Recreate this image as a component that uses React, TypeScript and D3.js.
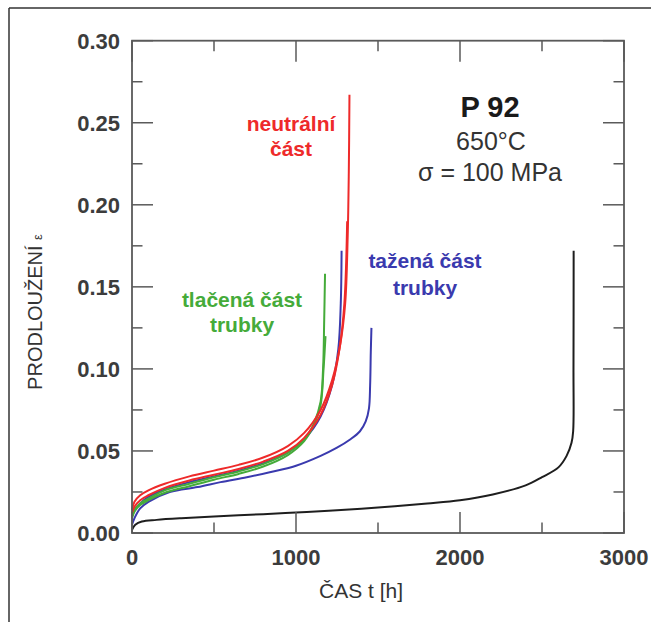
import React from "react";
import * as d3 from "d3";

// creep curves: [time h, strain]
const blackCurve = [
  [0, 0.002], [20, 0.005], [60, 0.007], [150, 0.008], [300, 0.009], [500, 0.010],
  [800, 0.0115], [1000, 0.0125], [1200, 0.0135], [1500, 0.0155], [1800, 0.018],
  [2000, 0.020], [2200, 0.0235], [2400, 0.029], [2500, 0.034], [2600, 0.040],
  [2650, 0.047], [2680, 0.055], [2690, 0.062], [2692, 0.10], [2693, 0.172],
];
const redCurveA = [
  [0, 0.014], [15, 0.019], [50, 0.023], [100, 0.026], [200, 0.030], [350, 0.0345],
  [500, 0.038], [650, 0.0415], [800, 0.046], [950, 0.053], [1050, 0.061],
  [1150, 0.075], [1220, 0.093], [1270, 0.115], [1300, 0.14], [1315, 0.18],
  [1322, 0.22], [1326, 0.267],
];
const redCurveB = [
  [0, 0.012], [15, 0.016], [50, 0.020], [100, 0.023], [200, 0.0275], [350, 0.032],
  [500, 0.0355], [650, 0.039], [800, 0.0435], [950, 0.050], [1050, 0.058],
  [1150, 0.072], [1220, 0.090], [1265, 0.112], [1295, 0.14], [1312, 0.19],
];
const greenCurveA = [
  [0, 0.010], [15, 0.014], [50, 0.018], [100, 0.021], [200, 0.026], [350, 0.030],
  [500, 0.034], [650, 0.0375], [800, 0.042], [950, 0.049], [1050, 0.057],
  [1110, 0.067], [1150, 0.080], [1165, 0.10], [1172, 0.13], [1177, 0.158],
];
const greenCurveB = [
  [0, 0.009], [15, 0.013], [50, 0.017], [100, 0.020], [200, 0.0245], [350, 0.0285],
  [500, 0.0325], [650, 0.036], [800, 0.0405], [950, 0.0475], [1050, 0.056],
  [1110, 0.066], [1150, 0.078], [1168, 0.10], [1180, 0.12],
];
const blueCurveA = [
  [0, 0.010], [15, 0.014], [50, 0.018], [100, 0.022], [200, 0.0265], [350, 0.031],
  [500, 0.0345], [650, 0.038], [800, 0.0425], [950, 0.049], [1050, 0.057],
  [1150, 0.071], [1220, 0.090], [1258, 0.112], [1273, 0.14], [1278, 0.172],
];
const blueCurveB = [
  [0, 0.005], [15, 0.009], [50, 0.015], [100, 0.019], [230, 0.025], [400, 0.028],
  [540, 0.031], [700, 0.034], [840, 0.037], [1000, 0.041], [1150, 0.047],
  [1250, 0.052], [1330, 0.057], [1390, 0.062], [1425, 0.068], [1445, 0.076],
  [1452, 0.09], [1456, 0.11], [1460, 0.125],
];

const series = [
  { data: blackCurve, color: "#1e1e1e" },
  { data: blueCurveB, color: "#3a3aae" },
  { data: blueCurveA, color: "#3a3aae" },
  { data: greenCurveB, color: "#45ab3a" },
  { data: greenCurveA, color: "#45ab3a" },
  { data: redCurveB, color: "#ee2a2a" },
  { data: redCurveA, color: "#ee2a2a" },
];

const xMajor = [0, 1000, 2000, 3000];
const xMinor = [500, 1500, 2500];
const yMajor = [0, 0.05, 0.1, 0.15, 0.2, 0.25, 0.3];
const yMinor = [0.025, 0.075, 0.125, 0.175, 0.225, 0.275];

const W = 651;
const H = 622;
const left = 132, right = 624, top = 40.7, bottom = 533;
const FONT = "Liberation Sans, Arial, sans-serif";
const AX = "#5a5a5a";

export default function App() {
  const x = d3.scaleLinear().domain([0, 3000]).range([left, right]);
  const y = d3.scaleLinear().domain([0, 0.3]).range([bottom, top]);
  const line = d3
    .line<number[]>()
    .x((d) => x(d[0]))
    .y((d) => y(d[1]))
    .curve(d3.curveCatmullRom.alpha(0.5));

  const majLen = 21, minLen = 10.5;

  return (
    <svg width={W} height={H} style={{ position: "absolute", left: 0, top: 0, background: "#fff" }}>
      {/* outer frame */}
      <line x1={9} y1={8} x2={W} y2={8} stroke="#333" strokeWidth={1.5} />
      <line x1={9} y1={8} x2={9} y2={H} stroke="#333" strokeWidth={1.5} />

      {/* curves */}
      <g fill="none" strokeWidth={2}>
        {series.map((s, i) => (
          <path key={i} d={line(s.data) || ""} stroke={s.color} />
        ))}
      </g>

      {/* plot box */}
      <rect x={left} y={top} width={right - left} height={bottom - top} fill="none" stroke={AX} strokeWidth={1.8} />

      {/* ticks on all four sides, pointing inward */}
      <g stroke={AX} strokeWidth={1.5}>
        {xMajor.map((t) => (
          <g key={"xm" + t}>
            <line x1={x(t)} x2={x(t)} y1={bottom} y2={bottom - majLen} />
            <line x1={x(t)} x2={x(t)} y1={top} y2={top + majLen} />
          </g>
        ))}
        {xMinor.map((t) => (
          <g key={"xn" + t}>
            <line x1={x(t)} x2={x(t)} y1={bottom} y2={bottom - minLen} />
            <line x1={x(t)} x2={x(t)} y1={top} y2={top + minLen} />
          </g>
        ))}
        {yMajor.map((t) => (
          <g key={"ym" + t}>
            <line x1={left} x2={left + majLen} y1={y(t)} y2={y(t)} />
            <line x1={right} x2={right - majLen} y1={y(t)} y2={y(t)} />
          </g>
        ))}
        {yMinor.map((t) => (
          <g key={"yn" + t}>
            <line x1={left} x2={left + minLen} y1={y(t)} y2={y(t)} />
            <line x1={right} x2={right - minLen} y1={y(t)} y2={y(t)} />
          </g>
        ))}
      </g>

      {/* tick labels */}
      <g fontFamily={FONT} fontWeight="bold" fontSize={22} fill="#3c3c3c">
        {xMajor.map((t) => (
          <text key={"xl" + t} x={x(t)} y={565} textAnchor="middle">
            {t}
          </text>
        ))}
        {yMajor.map((t) => (
          <text key={"yl" + t} x={120} y={y(t)} dy="0.36em" textAnchor="end">
            {t.toFixed(2)}
          </text>
        ))}
      </g>

      {/* axis titles */}
      <text x={361} y={598} textAnchor="middle" fontFamily={FONT} fontSize={21} fill="#333">
        ČAS t [h]
      </text>
      <text
        transform={`translate(42, 312) rotate(-90)`}
        textAnchor="middle"
        fontFamily={FONT}
        fontSize={20}
        fill="#333"
      >
        PRODLOUŽENÍ <tspan fontSize={13}>ε</tspan>
      </text>

      {/* annotation */}
      <g fontFamily={FONT} textAnchor="middle">
        <text x={490} y={117} fontSize={29} fontWeight="bold" fill="#1a1a1a">P 92</text>
        <text x={491} y={150} fontSize={25} fill="#333">650°C</text>
        <text x={490} y={181} fontSize={25} fill="#333">σ = 100 MPa</text>
      </g>

      {/* series labels */}
      <g fontFamily={FONT} fontWeight="bold" fontSize={21} textAnchor="middle">
        <text x={291} y={131} fill="#ee2a2a">neutrální</text>
        <text x={291} y={156} fill="#ee2a2a">část</text>
        <text x={242} y={307} fill="#45ab3a">tlačená část</text>
        <text x={242} y={332} fill="#45ab3a">trubky</text>
        <text x={425} y={268} fill="#3a3aae">tažená část</text>
        <text x={425} y={295} fill="#3a3aae">trubky</text>
      </g>
    </svg>
  );
}
